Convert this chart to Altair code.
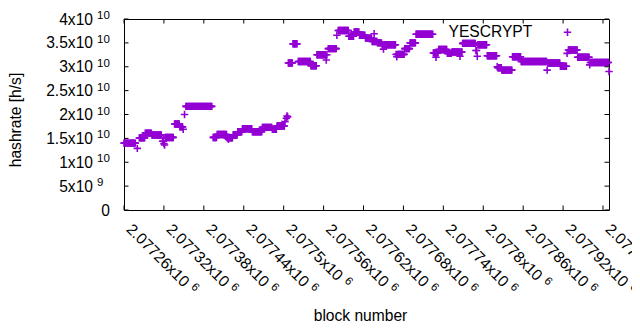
import altair as alt
import pandas as pd

# ---- data: runs of consecutive blocks sharing the same hashrate ----
run_start = [2077260, 2077280, 2077283, 2077292, 2077302, 2077318, 2077320, 2077321, 2077322, 2077336,
             2077344, 2077349, 2077351, 2077353, 2077394, 2077400, 2077415, 2077417, 2077418, 2077424,
             2077431, 2077438, 2077453, 2077468, 2077483, 2077490, 2077502, 2077504, 2077505, 2077506,
             2077507, 2077514, 2077522, 2077541, 2077550, 2077564, 2077565, 2077567, 2077580, 2077582,
             2077598, 2077606, 2077614, 2077623, 2077633, 2077636, 2077637, 2077641, 2077648, 2077650,
             2077651, 2077669, 2077670, 2077671, 2077682, 2077690, 2077699, 2077725, 2077729, 2077730,
             2077733, 2077746, 2077753, 2077765, 2077766, 2077769, 2077789, 2077791, 2077792, 2077806,
             2077821, 2077822, 2077828, 2077844, 2077857, 2077896, 2077897, 2077916, 2077926, 2077928,
             2077942, 2077960, 2077961, 2077989]
run_end = [2077277, 2077280, 2077291, 2077301, 2077316, 2077319, 2077320, 2077321, 2077334, 2077343,
           2077348, 2077349, 2077351, 2077392, 2077399, 2077414, 2077416, 2077417, 2077423, 2077430,
           2077437, 2077452, 2077467, 2077482, 2077489, 2077501, 2077502, 2077504, 2077505, 2077506,
           2077513, 2077520, 2077540, 2077549, 2077563, 2077564, 2077565, 2077579, 2077580, 2077597,
           2077605, 2077613, 2077622, 2077632, 2077635, 2077636, 2077640, 2077647, 2077649, 2077650,
           2077668, 2077669, 2077670, 2077681, 2077689, 2077698, 2077724, 2077728, 2077729, 2077732,
           2077745, 2077752, 2077764, 2077765, 2077768, 2077788, 2077790, 2077791, 2077805, 2077820,
           2077821, 2077827, 2077843, 2077856, 2077895, 2077896, 2077915, 2077925, 2077926, 2077941,
           2077959, 2077960, 2077988, 2077989]
run_value = [1.40e10, 1.29e10, 1.51e10, 1.61e10, 1.57e10, 1.44e10, 1.39e10, 1.36e10, 1.52e10, 1.80e10,
             1.74e10, 1.69e10, 2.00e10, 2.17e10, 1.52e10, 1.58e10, 1.51e10, 1.48e10, 1.51e10, 1.57e10,
             1.64e10, 1.70e10, 1.64e10, 1.73e10, 1.69e10, 1.76e10, 1.85e10, 1.92e10, 1.97e10, 1.95e10,
             3.08e10, 3.48e10, 3.11e10, 3.02e10, 3.25e10, 3.14e10, 3.25e10, 3.38e10, 3.66e10, 3.76e10,
             3.64e10, 3.73e10, 3.66e10, 3.60e10, 3.53e10, 3.69e10, 3.53e10, 3.50e10, 3.46e10, 3.37e10,
             3.46e10, 3.26e10, 3.21e10, 3.26e10, 3.38e10, 3.50e10, 3.68e10, 3.29e10, 3.20e10, 3.29e10,
             3.36e10, 3.28e10, 3.31e10, 3.22e10, 3.31e10, 3.49e10, 3.34e10, 3.22e10, 3.46e10, 3.23e10,
             3.00e10, 2.98e10, 2.93e10, 3.21e10, 3.11e10, 2.93e10, 3.08e10, 3.01e10, 3.28e10, 3.35e10,
             3.20e10, 3.04e10, 3.09e10, 2.90e10]

x_tick_values = [2077260, 2077320, 2077380, 2077440, 2077500, 2077560, 2077620,
                 2077680, 2077740, 2077800, 2077860, 2077920, 2077980]
x_tick_base = ["2.07726x10", "2.07732x10", "2.07738x10", "2.07744x10", "2.0775x10", "2.07756x10",
               "2.07762x10", "2.07768x10", "2.07774x10", "2.0778x10", "2.07786x10", "2.07792x10",
               "2.07798x10"]
x_tick_exp = ["6"] * 13

y_tick_values = [0, 5e9, 1e10, 1.5e10, 2e10, 2.5e10, 3e10, 3.5e10, 4e10]
y_tick_base = ["0", "5x10", "1x10", "1.5x10", "2x10", "2.5x10", "3x10", "3.5x10", "4x10"]
y_tick_exp = ["", "9", "10", "10", "10", "10", "10", "10", "10"]

series_name = ["YESCRYPT"]
x_title = ["block number"]
y_title = ["hashrate [h/s]"]

# ---- styling ----
FONT = "Liberation Sans"
FS = 15.6
SUP = 11.5
W, H = 485, 191
COLOR = "#9400D3"
TICK = 4.5
PLUS = "M-1,0H1M0,-1V1"

blocks, rates = [], []
for s, e, v in zip(run_start, run_end, run_value):
    for b in range(s, e + 1):
        blocks.append(b)
        rates.append(v)
pts = pd.DataFrame({"block": blocks, "hashrate": rates})

xt = pd.DataFrame({"block": x_tick_values, "base": x_tick_base, "exp": x_tick_exp})
yt = pd.DataFrame({"hashrate": y_tick_values, "base": y_tick_base, "exp": y_tick_exp})

xs = alt.Scale(domain=[2077260, 2077989], nice=False, zero=False)
ys = alt.Scale(domain=[0, 4e10], nice=False, zero=False)

points = alt.Chart(pts).mark_point(
    shape=PLUS, filled=False, size=55, strokeWidth=1.6, color=COLOR, opacity=1, clip=False
).encode(
    x=alt.X("block:Q", scale=xs, axis=None),
    y=alt.Y("hashrate:Q", scale=ys, axis=None),
)

tick_bottom = alt.Chart(xt).mark_rule(color="black", strokeWidth=1).encode(
    x="block:Q", y=alt.value(H), y2=alt.value(H - TICK))
tick_top = alt.Chart(xt).mark_rule(color="black", strokeWidth=1).encode(
    x="block:Q", y=alt.value(0), y2=alt.value(TICK))
tick_left = alt.Chart(yt).mark_rule(color="black", strokeWidth=1).encode(
    y="hashrate:Q", x=alt.value(0), x2=alt.value(TICK))
tick_right = alt.Chart(yt).mark_rule(color="black", strokeWidth=1).encode(
    y="hashrate:Q", x=alt.value(W), x2=alt.value(W - TICK))

# x labels (rotated), base + superscript exponent
XDX, XDY = 15.3, 8.2
xlab = alt.Chart(xt).mark_text(
    angle=45, align="left", baseline="middle", font=FONT, fontSize=FS, color="black",
    dx=XDX, dy=XDY
).encode(x="block:Q", y=alt.value(H), text="base:N")

cw = {"0": .556, "1": .556, "2": .556, "3": .556, "4": .556, "5": .556, "6": .556,
      "7": .556, "8": .556, "9": .556, ".": .278, "x": .5}
widths = [round(sum(cw[c] for c in s) * FS, 1) for s in x_tick_base]
xexp_layers = []
for w in sorted(set(widths)):
    sub = xt[[wi == w for wi in widths]]
    xexp_layers.append(alt.Chart(sub).mark_text(
        angle=45, align="left", baseline="alphabetic", font=FONT, fontSize=SUP, color="black",
        dx=XDX + w + 5, dy=XDY + 0.30 * FS - 5
    ).encode(x="block:Q", y=alt.value(H), text="exp:N"))

# y labels
yt_exp = yt[yt["exp"] != ""]
yt_plain = yt[yt["exp"] == ""]
ylab_main = alt.Chart(yt_exp).mark_text(
    align="right", baseline="middle", font=FONT, fontSize=FS, color="black", dy=0.5
).encode(x=alt.value(-31), y="hashrate:Q", text="base:N")
ylab_exp = alt.Chart(yt_exp).mark_text(
    align="left", baseline="alphabetic", font=FONT, fontSize=SUP, color="black", dy=0
).encode(x=alt.value(-27), y="hashrate:Q", text="exp:N")
ylab_plain = alt.Chart(yt_plain).mark_text(
    align="right", baseline="middle", font=FONT, fontSize=FS, color="black", dy=0.5
).encode(x=alt.value(-14), y="hashrate:Q", text="base:N")

xtitle = alt.Chart(pd.DataFrame({"t": x_title})).mark_text(
    align="center", baseline="middle", font=FONT, fontSize=FS, color="black"
).encode(x=alt.value(236.5), y=alt.value(297), text="t:N")
ytitle = alt.Chart(pd.DataFrame({"t": y_title})).mark_text(
    align="center", baseline="middle", font=FONT, fontSize=FS, color="black", angle=270
).encode(x=alt.value(-108), y=alt.value(101), text="t:N")

leg_df = pd.DataFrame({"t": series_name})
leg_text = alt.Chart(leg_df).mark_text(
    align="right", baseline="middle", font=FONT, fontSize=FS, color="black"
).encode(x=alt.value(408.3), y=alt.value(12.5), text="t:N")
leg_sym = alt.Chart(leg_df).mark_point(
    shape=PLUS, filled=False, size=55, strokeWidth=1.6, color=COLOR, opacity=1
).encode(x=alt.value(443.5), y=alt.value(13.3))

chart = alt.layer(
    points, tick_bottom, tick_top, tick_left, tick_right,
    xlab, *xexp_layers, ylab_main, ylab_exp, ylab_plain,
    xtitle, ytitle, leg_text, leg_sym
).properties(
    width=W, height=H,
    padding={"left": 116, "top": 11, "right": 23, "bottom": 112},
    autosize=alt.AutoSizeParams(type="none"),
).configure_view(stroke="black", strokeWidth=1)

chart.save("out.html", embed_options={"renderer": "svg", "actions": False})
